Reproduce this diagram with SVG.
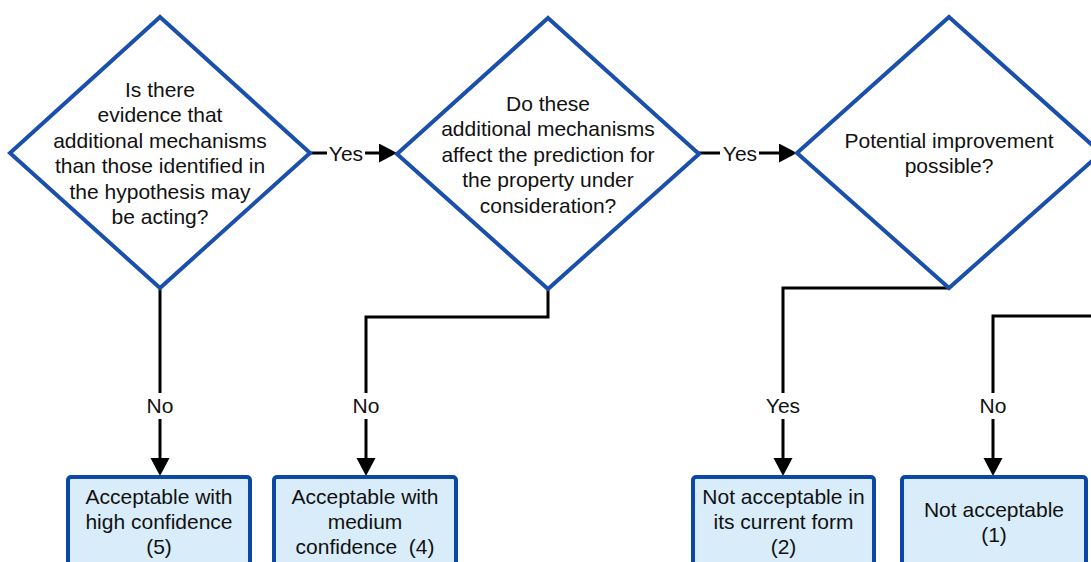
<svg xmlns="http://www.w3.org/2000/svg" width="1091" height="562" viewBox="0 0 1091 562">
<style>
.dia{fill:#fff;stroke:#1a50ab;stroke-width:4;stroke-linejoin:miter}
.box{fill:#d8edf9;stroke:#0b48a6;stroke-width:4}
.t{font-family:"Liberation Sans",Arial,sans-serif;font-size:21px;fill:#111;text-anchor:middle}
.c{fill:none;stroke:#000;stroke-width:3}
</style>
<defs>
<marker id="ah" markerUnits="userSpaceOnUse" markerWidth="19" markerHeight="20" refX="14" refY="9.5" orient="auto" viewBox="0 0 19 20">
<path d="M0,0 L18,9.5 L0,19 z" fill="#000"/>
</marker>
</defs>
<g id="connectors">
<path class="c" d="M310,153 H327"/>
<path class="c" d="M365,153 H393" marker-end="url(#ah)"/>
<text class="t" x="346" y="161">Yes</text>
<path class="c" d="M699,153 H720"/>
<path class="c" d="M759,153 H793" marker-end="url(#ah)"/>
<text class="t" x="740" y="161">Yes</text>
<path class="c" d="M160,288 V393"/>
<path class="c" d="M160,419 V472" marker-end="url(#ah)"/>
<text class="t" x="160" y="413">No</text>
<path class="c" d="M548,289 V317 H366 V393"/>
<path class="c" d="M366,419 V472" marker-end="url(#ah)"/>
<text class="t" x="366" y="413">No</text>
<path class="c" d="M949,288 H783 V393"/>
<path class="c" d="M783,419 V472" marker-end="url(#ah)"/>
<text class="t" x="783" y="413">Yes</text>
<path class="c" d="M1095,316 H993 V393"/>
<path class="c" d="M993,419 V472" marker-end="url(#ah)"/>
<text class="t" x="993" y="413">No</text>
</g>
<g id="d1">
<polygon class="dia" points="160,17 310,153 160,288 10,153"/>
<text class="t" x="160" y="97">Is there</text>
<text class="t" x="160" y="122.4">evidence that</text>
<text class="t" x="160" y="147.8">additional mechanisms</text>
<text class="t" x="160" y="173.2">than those identified in</text>
<text class="t" x="160" y="198.6">the hypothesis may</text>
<text class="t" x="160" y="224">be acting?</text>
</g>
<g id="d2">
<polygon class="dia" points="548,18 699,154 548,289 397,154"/>
<text class="t" x="548" y="111">Do these</text>
<text class="t" x="548" y="136.4">additional mechanisms</text>
<text class="t" x="548" y="161.8">affect the prediction for</text>
<text class="t" x="548" y="187.2">the property under</text>
<text class="t" x="548" y="212.6">consideration?</text>
</g>
<g id="d3">
<polygon class="dia" points="949,17 1101,153 949,288 797,153"/>
<text class="t" x="949" y="147.5">Potential improvement</text>
<text class="t" x="949" y="173">possible?</text>
</g>
<g id="b1">
<rect class="box" x="68" y="477" width="182" height="100" rx="3"/>
<text class="t" x="159" y="504">Acceptable with</text>
<text class="t" x="159" y="529">high confidence</text>
<text class="t" x="159" y="554">(5)</text>
</g>
<g id="b2">
<rect class="box" x="274" y="477" width="182" height="100" rx="3"/>
<text class="t" x="365" y="504">Acceptable with</text>
<text class="t" x="365" y="529">medium</text>
<text class="t" x="365" y="554" xml:space="preserve">confidence  (4)</text>
</g>
<g id="b3">
<rect class="box" x="693" y="477" width="181" height="100" rx="3"/>
<text class="t" x="783.5" y="504">Not acceptable in</text>
<text class="t" x="783.5" y="529">its current form</text>
<text class="t" x="783.5" y="554">(2)</text>
</g>
<g id="b4">
<rect class="box" x="902" y="477" width="184" height="100" rx="3"/>
<text class="t" x="994" y="517">Not acceptable</text>
<text class="t" x="994" y="542">(1)</text>
</g>
</svg>
